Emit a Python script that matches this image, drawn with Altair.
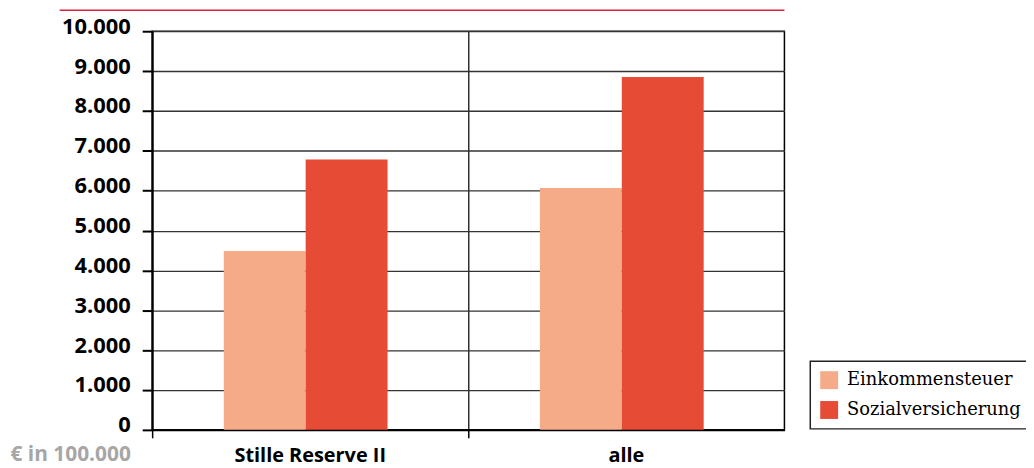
import altair as alt
import pandas as pd

categories = ["Stille Reserve II", "alle"]
series = ["Einkommensteuer", "Sozialversicherung"]
einkommensteuer = [4490, 6070]
sozialversicherung = [6780, 8850]
y_ticks = [0, 1000, 2000, 3000, 4000, 5000, 6000, 7000, 8000, 9000, 10000]
colors = ["#f6ab88", "#e64b35"]
y_title = "€ in 100.000"

rows = []
for i, c in enumerate(categories):
    rows.append({"Kategorie": c, "Art": series[0], "Wert": einkommensteuer[i]})
    rows.append({"Kategorie": c, "Art": series[1], "Wert": sozialversicherung[i]})
df = pd.DataFrame(rows)

W, H = 636, 401

bars = alt.Chart(df).mark_bar().encode(
    x=alt.X(
        "Kategorie:N",
        sort=categories,
        scale=alt.Scale(paddingInner=0, paddingOuter=0),
        axis=alt.Axis(
            title=None, grid=True, bandPosition=0, gridColor="#111", gridWidth=1.3,
            domainColor="black", domainWidth=2, tickColor="black", tickWidth=1.5,
            tickSize=8, labelFont="Open Sans", labelFontWeight="bold", labelFontSize=20,
            labelColor="black", labelBaseline="alphabetic", labelPadding=24, labelAngle=0,
        ),
    ),
    xOffset=alt.XOffset("Art:N", sort=series,
                        scale=alt.Scale(paddingOuter=0.93, paddingInner=0, align=0.47)),
    y=alt.Y(
        "Wert:Q",
        scale=alt.Scale(domain=[0, 10000], nice=False),
        axis=alt.Axis(
            values=y_ticks, title=y_title, titleAngle=0, titleX=-143, titleY=432,
            titleAlign="left", titleBaseline="alphabetic", titleFont="Open Sans",
            titleFontWeight="bold", titleFontSize=21, titleColor="#a6a6a6",
            labelExpr="replace(format(datum.value, ','), ',', '.')",
            labelFont="Open Sans", labelFontWeight="bold", labelFontSize=22, labelColor="black",
            labelBaseline="alphabetic", labelOffset=2, labelPadding=12,
            tickSize=10, tickWidth=2, tickColor="black", domainColor="black", domainWidth=2,
            gridColor="#333", gridWidth=1.3,
        ),
    ),
    color=alt.Color(
        "Art:N",
        sort=series,
        scale=alt.Scale(domain=series, range=colors),
        legend=alt.Legend(
            title=None, orient="none", legendX=662, legendY=332,
            symbolType="square", symbolSize=324, symbolStrokeWidth=0, symbolOpacity=1,
            labelFont="DejaVu Serif", labelFontSize=18, labelColor="black", labelOffset=9,
            labelLimit=400, padding=10, rowPadding=12, strokeColor="#222", fillColor="white",
        ),
    ),
)

top_rule = alt.Chart(pd.DataFrame({"a": [0]})).mark_rule(color="#d9233c", strokeWidth=1.5).encode(
    x=alt.value(-93), x2=alt.value(W), y=alt.value(-21)
)

chart = alt.layer(bars, top_rule).properties(
    width=W, height=H,
    autosize=alt.AutoSizeParams(type="none"),
    padding={"left": 145, "top": 22, "right": 243, "bottom": 37},
).configure_view(stroke="black", strokeWidth=1.5).configure_legend(strokeWidth=1.5, cornerRadius=0)

chart.save("out.html", embed_options={"renderer": "svg", "actions": False})
